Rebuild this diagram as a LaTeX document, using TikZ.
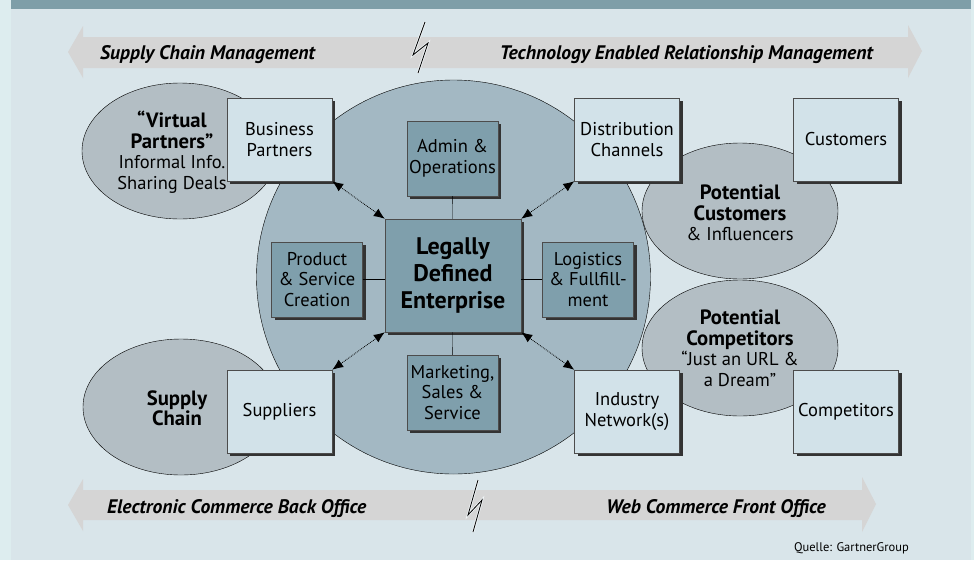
\documentclass[tikz,border=0pt]{standalone}
\usepackage{fontspec}
\setmainfont{PT Sans}
\usetikzlibrary{arrows.meta,shadows}
\definecolor{edge}{HTML}{DDEDEF}
\definecolor{panel}{HTML}{D9E5EA}
\definecolor{topbar}{HTML}{7E9EA8}
\definecolor{band}{HTML}{D5D5D5}
\definecolor{core}{HTML}{A3B8C3}
\definecolor{inner}{HTML}{7F9FAC}
\definecolor{outer}{HTML}{D2E2E9}
\definecolor{blob}{HTML}{B3BEC4}
\tikzset{
  boxshadow/.style={drop shadow={shadow xshift=3pt,shadow yshift=-3pt,fill=black!80,opacity=1}},
  outerbox/.style={draw=black!70,fill=outer,boxshadow,minimum width=105pt,minimum height=83pt,inner sep=0pt,align=center,font=\fontsize{18.5}{20.5}\selectfont},
  innerbox/.style={draw=black!70,fill=inner,boxshadow,minimum width=91pt,minimum height=75pt,inner sep=0pt,align=center,font=\fontsize{18.5}{20.5}\selectfont},
  corebox/.style={draw=black!70,fill=inner,boxshadow,minimum width=136pt,minimum height=113pt,inner sep=0pt,align=center,font=\fontsize{24}{27}\selectfont\bfseries},
  blobtext/.style={align=center,inner sep=0pt,font=\fontsize{18.5}{20.5}\selectfont},
  bandtext/.style={inner sep=0pt,font=\fontsize{19.6}{22}\selectfont\bfseries\itshape},
  dotarrow/.style={densely dotted,thick,{Latex[length=11pt,width=9pt]}-{Latex[length=11pt,width=9pt]}},
}
\newcommand{\obox}[4]{\node[outerbox] (#1) at (#2,#3) {#4};}
\newcommand{\ibox}[4]{\node[innerbox] (#1) at (#2,#3) {#4};}
\newcommand{\blob}[2]{\draw[fill=blob] (#1,#2) ellipse [x radius=98, y radius=68];}
\newcommand{\bolt}[8]{\draw[white!60!panel,line width=2.4pt] (#1,#2) -- (#3,#4) -- (#5,#6) -- (#7,#8); \draw[line width=0.8pt] (#1,#2) -- (#3,#4) -- (#5,#6) -- (#7,#8);}
\newcommand{\hi}[1]{{\fontsize{20.7}{20.5}\selectfont\bfseries #1}}

\begin{document}
\begin{tikzpicture}[x=1pt,y=-1pt]
        \useasboundingbox (0,0) rectangle (974,560);
        \fill[edge] (0,0) rectangle (974,560);
        \fill[panel] (11,0) rectangle (971,560);
        \fill[topbar] (11,0) rectangle (971,9);

        % bands
        \fill[band] (68,52) -- (83,26) -- (83,37) -- (908,37) -- (908,25) -- (922,51) -- (908,78) -- (908,68) -- (83,68) -- (83,78) -- cycle;
        \fill[band] (68,505) -- (83,479) -- (83,490) -- (862,490) -- (862,477) -- (876,504) -- (862,532) -- (862,520) -- (83,520) -- (83,531) -- cycle;
        \node[bandtext, anchor=base west] (scm) at (100,59) {Supply Chain Management};
        \node[bandtext, anchor=base east] (term) at (873,59) {Technology Enabled Relationship Management};
        \node[bandtext, anchor=base west] (ecbo) at (107,513) {Electronic Commerce Back Office};
        \node[bandtext, anchor=base east] (wcfo) at (826,513) {Web Commerce Front Office};
        \bolt{425}{22}{413}{55}{428}{43}{418}{73}
        \bolt{478}{480}{468}{515}{482}{500}{473}{532}

        % enterprise
        \draw[fill=core] (453.5,277) circle [radius=197];
        \blob{180}{151}
        \blob{181}{407}
        \blob{740}{211}
        \blob{740}{348}

        \node[blobtext] (vp) at (172,152) {\hi{“Virtual}\\\hi{Partners”}\\Informal Info.\\Sharing Deals};
        \node[blobtext] (sc) at (177,408) {\hi{Supply}\\\hi{Chain}};
        \node[blobtext] (pcu) at (740,213) {\hi{Potential}\\\hi{Customers}\\\& Influencers};
        \node[blobtext] (pco) at (740,348) {\hi{Potential}\\\hi{Competitors}\\“Just an URL \&\\a Dream”};

        \node[corebox] (lde) at (453,275.5) {Legally\\Defined\\Enterprise};
        \ibox{admin}{452.5}{158.5}{Admin \&\\Operations}
        \ibox{prod}{317}{279.5}{Product\\\& Service\\Creation}
        \ibox{logi}{588}{279.5}{Logistics\\\& Fullfill-\\ment}
        \ibox{mkt}{452.5}{392.5}{Marketing,\\Sales \&\\Service}
        \draw (admin) -- (lde);
        \draw (mkt) -- (lde);
        \draw (prod.east) -- (lde.west |- prod.east);
        \draw (logi.west) -- (lde.east |- logi.west);

        \obox{bp}{279.5}{139.5}{Business\\Partners}
        \obox{dc}{627}{139.5}{Distribution\\Channels}
        \obox{cust}{846}{139.5}{Customers}
        \obox{supp}{279.5}{411.5}{Suppliers}
        \obox{ind}{627}{411.5}{Industry\\Network(s)}
        \obox{comp}{846}{411.5}{Competitors}

        \draw[dotarrow] (bp.south east) -- (lde.north west);
        \draw[dotarrow] (dc.south west) -- (lde.north east);
        \draw[dotarrow] (supp.north east) -- (lde.south west);
        \draw[dotarrow] (ind.north west) -- (lde.south east);

        \node[anchor=base east, inner sep=0pt, font=\fontsize{12.5}{14}\selectfont] (src) at (909,551) {Quelle: GartnerGroup};
\end{tikzpicture}
\end{document}
